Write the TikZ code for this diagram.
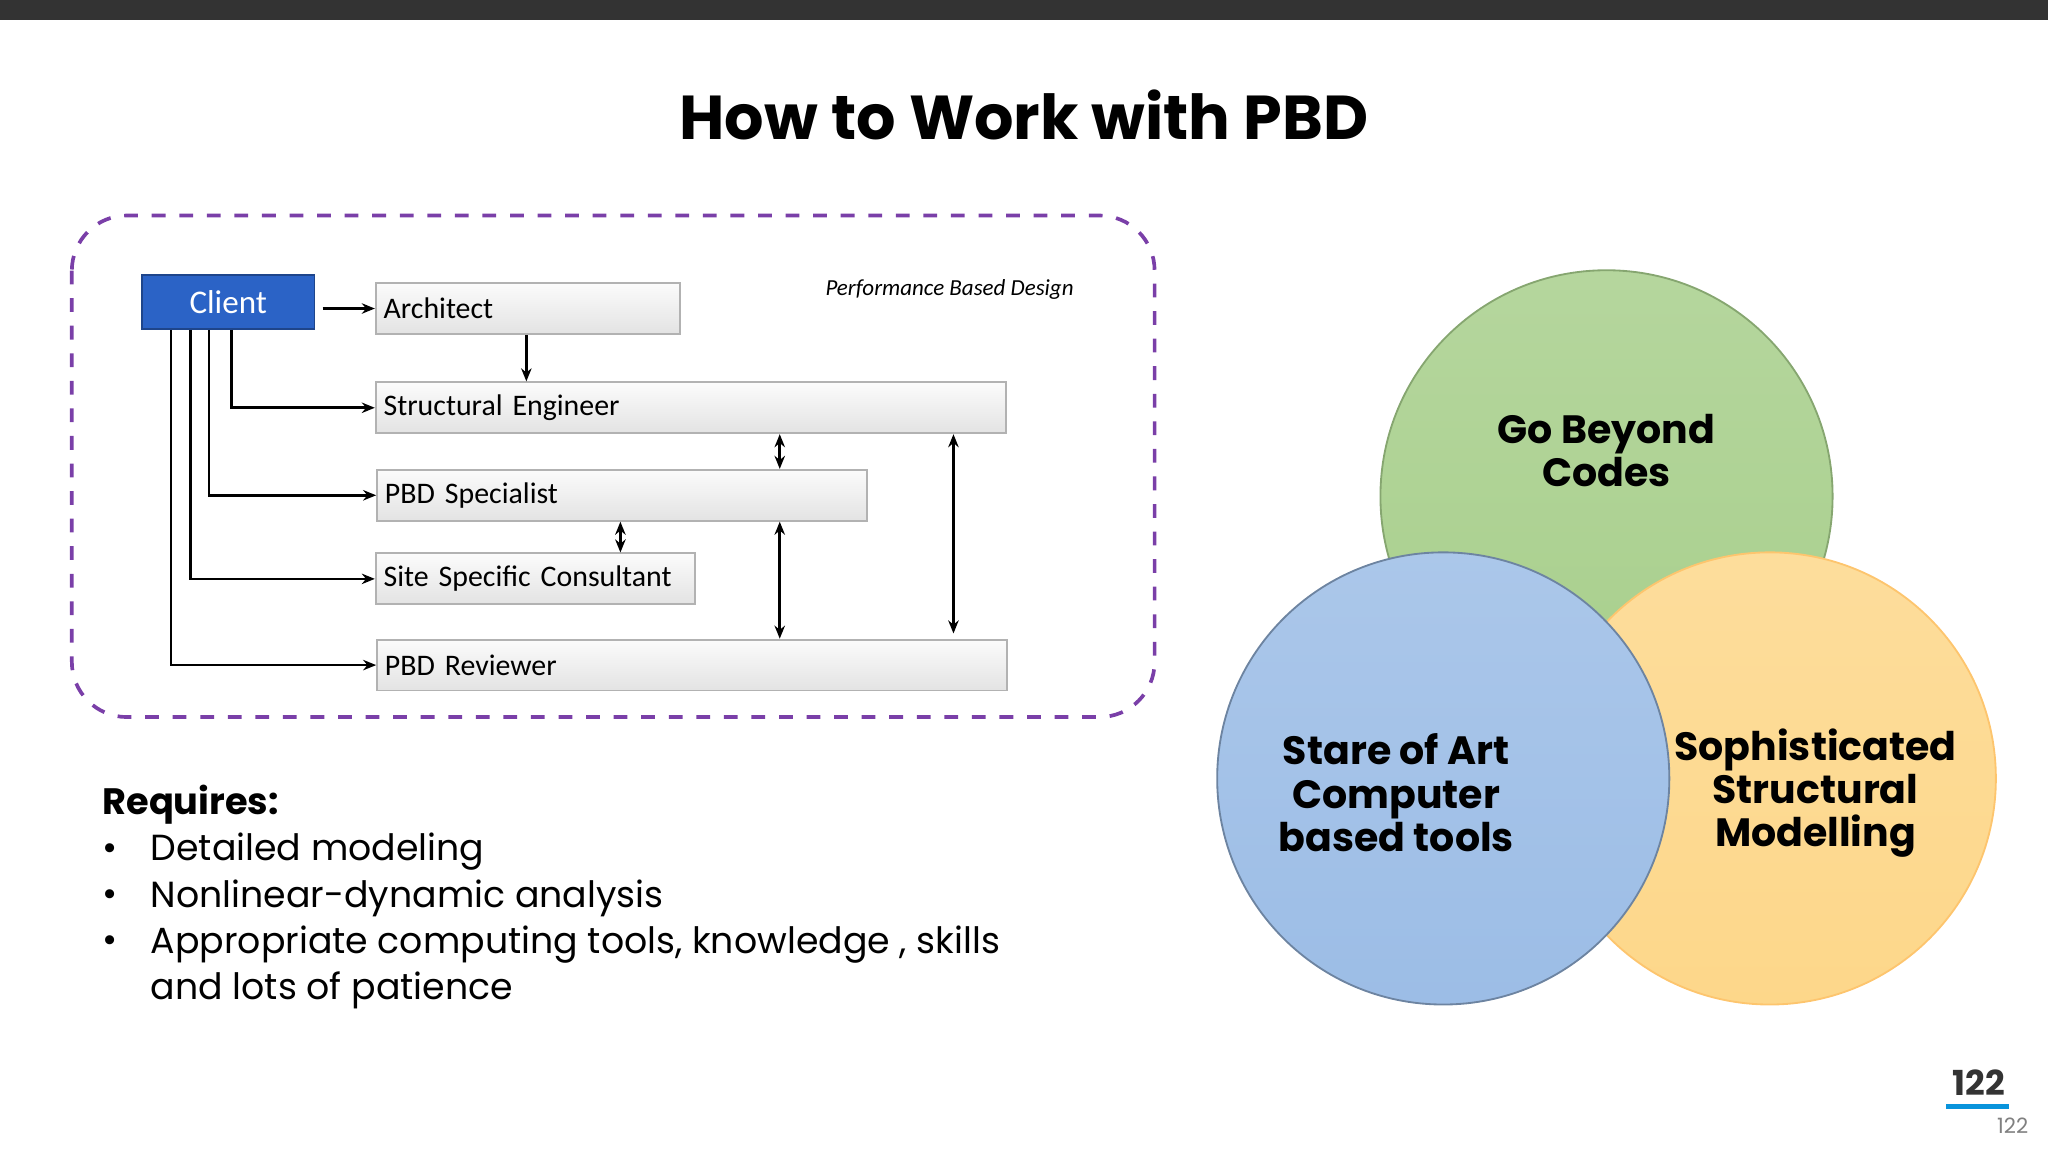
\documentclass[tikz,border=0pt]{standalone}
\usepackage{fontspec}
\setmainfont{Poppins}
\newfontfamily\calib{Carlito}
\usetikzlibrary{positioning,arrows.meta}
\definecolor{frame}{HTML}{7A3FA8}
\definecolor{clientblue}{HTML}{2B63C6}
\definecolor{greenc}{HTML}{A8CF8C}
\definecolor{bluec}{HTML}{9CBDE6}
\definecolor{yellowc}{HTML}{FDD78A}
\tikzset{
  role/.style={draw=gray!60, top color=gray!3, bottom color=gray!22, anchor=north west,
    minimum height=0.39cm, inner sep=0.6mm, align=left, font=\calib\fontsize{6.5}{7}\selectfont},
  link/.style={-{Stealth[length=1mm,width=0.8mm]}, semithick},
  both/.style={{Stealth[length=1mm,width=0.8mm]}-{Stealth[length=1mm,width=0.8mm]}, semithick},
  venn/.style={circle, minimum size=3.46cm},
  venntext/.style={font=\bfseries\fontsize{8.6}{9.4}\selectfont, align=center}
}
\begin{document}
\begin{tikzpicture}[x=0.01cm,y=-0.01cm]
\useasboundingbox (0,0) rectangle (1568,882);
\fill[black!80] (0,0) rectangle (1568,15);
\node (title) at (784,88) {\bfseries\fontsize{13.5}{16}\selectfont How to Work with PBD};

% flow chart
\draw[frame, dashed, thick, rounded corners=12] (55,165) rectangle (884,549);
\node[draw=clientblue!70!black, fill=clientblue, text=white, anchor=north west, minimum width=1.32cm,
  minimum height=0.39cm, font=\calib\fontsize{7.2}{8}\selectfont] (client) at (108,210) {Client};
\node[role, text width=2.21cm] (arch) at (287,216) {Architect};
\node[role, text width=4.7cm] (eng) at (287,292) {Structural Engineer};
\node[role, text width=3.63cm] (spec) at (288,359) {PBD Specialist};
\node[role, text width=2.32cm] (site) at (287,423) {Site Specific Consultant};
\node[role, text width=4.7cm] (rev) at (288,489) {PBD Reviewer};
\node[font=\calib\itshape\fontsize{5}{6}\selectfont] (pbd) at (727,222) {Performance Based Design};

\coordinate (c0) at (247,0);
\coordinate (c1) at (131,0);
\coordinate (c2) at (146,0);
\coordinate (c3) at (160,0);
\coordinate (c4) at (177,0);
\coordinate (xa) at (403,0);
\coordinate (xb) at (475,0);
\coordinate (xc) at (597,0);
\coordinate (xd) at (730,0);

\draw[link] (arch.west -| c0) -- (arch.west);
\draw[link] (arch.south -| xa) -- (eng.north -| xa);
\draw[link] (client.south -| c4) |- (eng.west);
\draw[link] (client.south -| c3) |- (spec.west);
\draw[link] (client.south -| c2) |- (site.west);
\draw[link] (client.south -| c1) |- (rev.west);
\draw[both] (eng.south -| xc) -- (spec.north -| xc);
\draw[both] (spec.south -| xb) -- (site.north -| xb);
\draw[both] (spec.south -| xc) -- (rev.north -| xc);
\draw[both] (eng.south -| xd) -- ([yshift=0.04cm]rev.north -| xd);

% requirements
\node[anchor=west, font=\bfseries\fontsize{8}{10}\selectfont] (req) at (66,616) {Requires:};
\foreach \t [count=\i] in {Detailed modeling, Nonlinear-dynamic analysis,
    {Appropriate computing tools, knowledge , skills}, and lots of patience} {
  \node[anchor=west, font=\fontsize{7.9}{10}\selectfont] (req\i) at (103,617+35.3*\i) {\t};
}
\foreach \i in {1,2,3} \node[font=\fontsize{8}{10}\selectfont] (dot\i) at (84,617+35.3*\i) {•};

% venn
\node[venn, draw=greenc!80!black, top color=greenc!85, bottom color=greenc] (go) at (1230,380) {};
\node[venntext] (gotxt) at (1230,345) {Go Beyond\\Codes};
\node[venn, draw=yellowc!80!orange, top color=yellowc!85, bottom color=yellowc] (soph) at (1355,596) {};
\node[venn, draw=bluec!70!black, top color=bluec!85, bottom color=bluec] (art) at (1105,596) {};
\node[venntext] (arttxt) at (1069,607) {Stare of Art\\Computer\\based tools};
\node[venntext] (sophtxt) at (1390,607) {Sophisticated\\Structural\\Modelling};

% page number
\node[font=\bfseries\fontsize{7.5}{8}\selectfont, text=black!80] (pg) at (1515,829) {122};
\fill[cyan!80!blue] (1490,845) rectangle (1538,849);
\node[font=\fontsize{4.6}{5}\selectfont, text=gray] (pgs) at (1541,862) {122};
\end{tikzpicture}
\end{document}
